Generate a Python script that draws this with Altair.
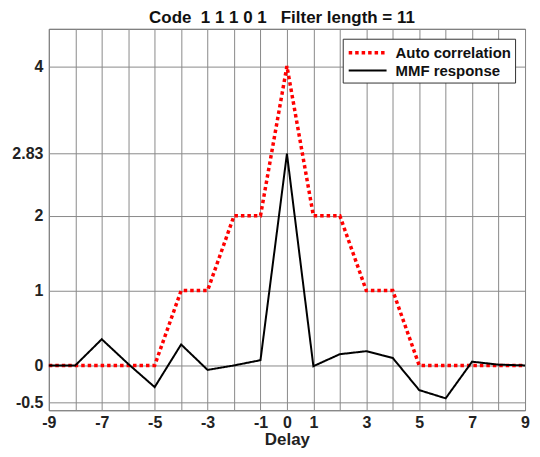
import altair as alt
import pandas as pd

delay = list(range(-9, 10))
auto_corr = [0, 0, 0, 0, 0, 1, 1, 2, 2, 4, 2, 2, 1, 1, 0, 0, 0, 0, 0]
mmf = [0, 0, 0.35, 0.02, -0.29, 0.28, -0.06, 0.0, 0.07, 2.83, -0.01, 0.15, 0.19, 0.1, -0.33, -0.44, 0.05, 0.01, 0]

x_labels = [-9, -7, -5, -3, -1, 0, 1, 3, 5, 7, 9]
y_ticks = [-0.5, 0, 1, 2, 2.83, 4]

names = ["Auto correlation", "MMF response"]
rows = []
for d, a in zip(delay, auto_corr):
    rows.append({"Delay": d, "value": a, "series": names[0]})
for d, m in zip(delay, mmf):
    rows.append({"Delay": d, "value": m, "series": names[1]})
df = pd.DataFrame(rows)

font = "Liberation Sans"
label_expr_x = "indexof([" + ",".join(str(v) for v in x_labels) + "], datum.value) >= 0 ? '' + datum.value : ''"

legend_kw = dict(title=None, orient="top-right", offset=10,
                 fillColor="white", strokeColor="#333", padding=4,
                 labelFont=font, labelFontSize=15, labelFontWeight="bold",
                 labelColor="#111", symbolType="M-1,0H3.75", symbolSize=256,
                 symbolStrokeWidth=2.5, rowPadding=1, labelOffset=29)

chart = alt.Chart(df).mark_line(strokeCap="butt").encode(
    x=alt.X("Delay:Q",
            scale=alt.Scale(domain=[-9, 9], nice=False),
            axis=alt.Axis(values=delay, labelExpr=label_expr_x, ticks=False, grid=True,
                          gridColor="#8a8a8a", gridOpacity=1, gridWidth=1,
                          labelFont=font, labelFontSize=16, labelFontWeight="bold", labelColor="#222",
                          labelPadding=4, domain=False, labelFlush=False,
                          title="Delay", titleFont=font, titleFontSize=17, titleFontWeight="bold",
                          titleColor="#222", titlePadding=1)),
    y=alt.Y("value:Q",
            scale=alt.Scale(domain=[-0.6, 4.5], nice=False, zero=False),
            axis=alt.Axis(values=y_ticks, labelExpr="'' + datum.value", ticks=False, grid=True,
                          gridColor="#8a8a8a", gridOpacity=1, gridWidth=1,
                          labelFont=font, labelFontSize=16, labelFontWeight="bold", labelColor="#222",
                          labelPadding=6, domain=False, title=None)),
    color=alt.Color("series:N", scale=alt.Scale(domain=names, range=["#ff0000", "#000000"]),
                    legend=alt.Legend(**legend_kw)),
    strokeDash=alt.StrokeDash("series:N", scale=alt.Scale(domain=names, range=[[3.5, 3], [1, 0]]),
                              legend=alt.Legend(**legend_kw)),
    strokeWidth=alt.StrokeWidth("series:N", scale=alt.Scale(domain=names, range=[3.5, 2]),
                                legend=None),
).properties(
    width=478, height=383,
    title=alt.TitleParams("Code\u00a0\u00a01\u00a01\u00a01\u00a00\u00a01\u00a0\u00a0\u00a0Filter\u00a0length\u00a0=\u00a011",
                          font=font, fontSize=17, fontWeight="bold", color="#111",
                          offset=2, dx=-5),
    padding={"left": 3, "top": 0, "right": 0, "bottom": 0},
).configure_view(stroke="#555", strokeWidth=1)

chart.save("out.html", embed_options={"renderer": "svg", "actions": False})
